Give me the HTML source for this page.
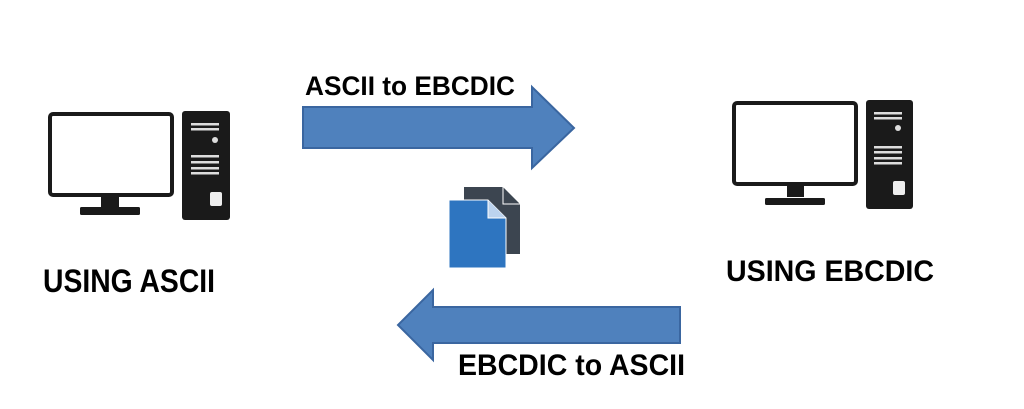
<!DOCTYPE html>
<html><head><meta charset="utf-8"><style>
html,body{margin:0;padding:0;background:#fff;width:1024px;height:409px;overflow:hidden}
text{font-family:"Liberation Sans",sans-serif;font-weight:bold;fill:#000}
</style></head><body>
<svg width="1024" height="409" viewBox="0 0 1024 409" xmlns="http://www.w3.org/2000/svg">
<!-- left computer -->
<g>
<rect x="50" y="114" width="122" height="81" rx="3" fill="#fff" stroke="#1a1a1a" stroke-width="4"/>
<rect x="101" y="196" width="18" height="12" fill="#1a1a1a"/>
<rect x="80" y="207" width="60" height="8" rx="1.5" fill="#1a1a1a"/>
<rect x="182" y="111" width="48" height="109" rx="3" fill="#1a1a1a"/>
<rect x="191" y="123" width="28" height="2.5" fill="#ddd"/>
<rect x="191" y="128" width="28" height="2.5" fill="#ddd"/>
<circle cx="215" cy="140" r="3" fill="#ddd"/>
<rect x="191" y="155" width="28" height="2.5" fill="#ddd"/>
<rect x="191" y="161" width="28" height="2.5" fill="#ddd"/>
<rect x="191" y="167" width="28" height="2.5" fill="#ddd"/>
<rect x="191" y="172" width="28" height="2.5" fill="#ddd"/>
<rect x="210" y="192" width="12" height="14" rx="2" fill="#eee"/>
</g>
<!-- right computer -->
<g>
<rect x="734" y="103" width="122" height="81" rx="3" fill="#fff" stroke="#1a1a1a" stroke-width="4"/>
<rect x="787" y="185" width="17" height="12" fill="#1a1a1a"/>
<rect x="765" y="198" width="60" height="7" rx="1.5" fill="#1a1a1a"/>
<rect x="866" y="100" width="47" height="109" rx="3" fill="#1a1a1a"/>
<rect x="874" y="112" width="28" height="2.5" fill="#ddd"/>
<rect x="874" y="117" width="28" height="2.5" fill="#ddd"/>
<circle cx="898" cy="128" r="3" fill="#ddd"/>
<rect x="874" y="146" width="28" height="2.5" fill="#ddd"/>
<rect x="874" y="151" width="28" height="2.5" fill="#ddd"/>
<rect x="874" y="157" width="28" height="2.5" fill="#ddd"/>
<rect x="874" y="162" width="28" height="2.5" fill="#ddd"/>
<rect x="893" y="181" width="12" height="14" rx="2" fill="#eee"/>
</g>
<!-- top arrow -->
<polygon points="303,107 532,107 532,87 574,128 532,168 532,148 303,148" fill="#4f81bd" stroke="#3a66a0" stroke-width="2"/>
<!-- bottom arrow -->
<polygon points="680,307 433,307 433,290 398,325 433,360 433,343 680,343" fill="#4f81bd" stroke="#3a66a0" stroke-width="2"/>
<!-- documents -->
<path d="M464,187 L503,187 L520,204 L520,254 L464,254 Z" fill="#3c4550"/>
<path d="M503,187 L503,204 L520,204" fill="none" stroke="#fff" stroke-width="1"/>
<path d="M449,200 L488,200 L506,218 L506,268 L449,268 Z" fill="#2e75c0" stroke="#fff" stroke-width="1"/>
<path d="M488,200 L488,218 L506,218" fill="#bcd3ee" stroke="#fff" stroke-width="1"/>
<!-- labels -->
<text x="305" y="95" font-size="27" textLength="210" lengthAdjust="spacingAndGlyphs">ASCII to EBCDIC</text>
<text x="43" y="292" font-size="32" textLength="172" lengthAdjust="spacingAndGlyphs">USING ASCII</text>
<text x="726" y="281" font-size="30" textLength="208" lengthAdjust="spacingAndGlyphs">USING EBCDIC</text>
<text x="458" y="375" font-size="30" textLength="227" lengthAdjust="spacingAndGlyphs">EBCDIC to ASCII</text>
</svg>
</body></html>
